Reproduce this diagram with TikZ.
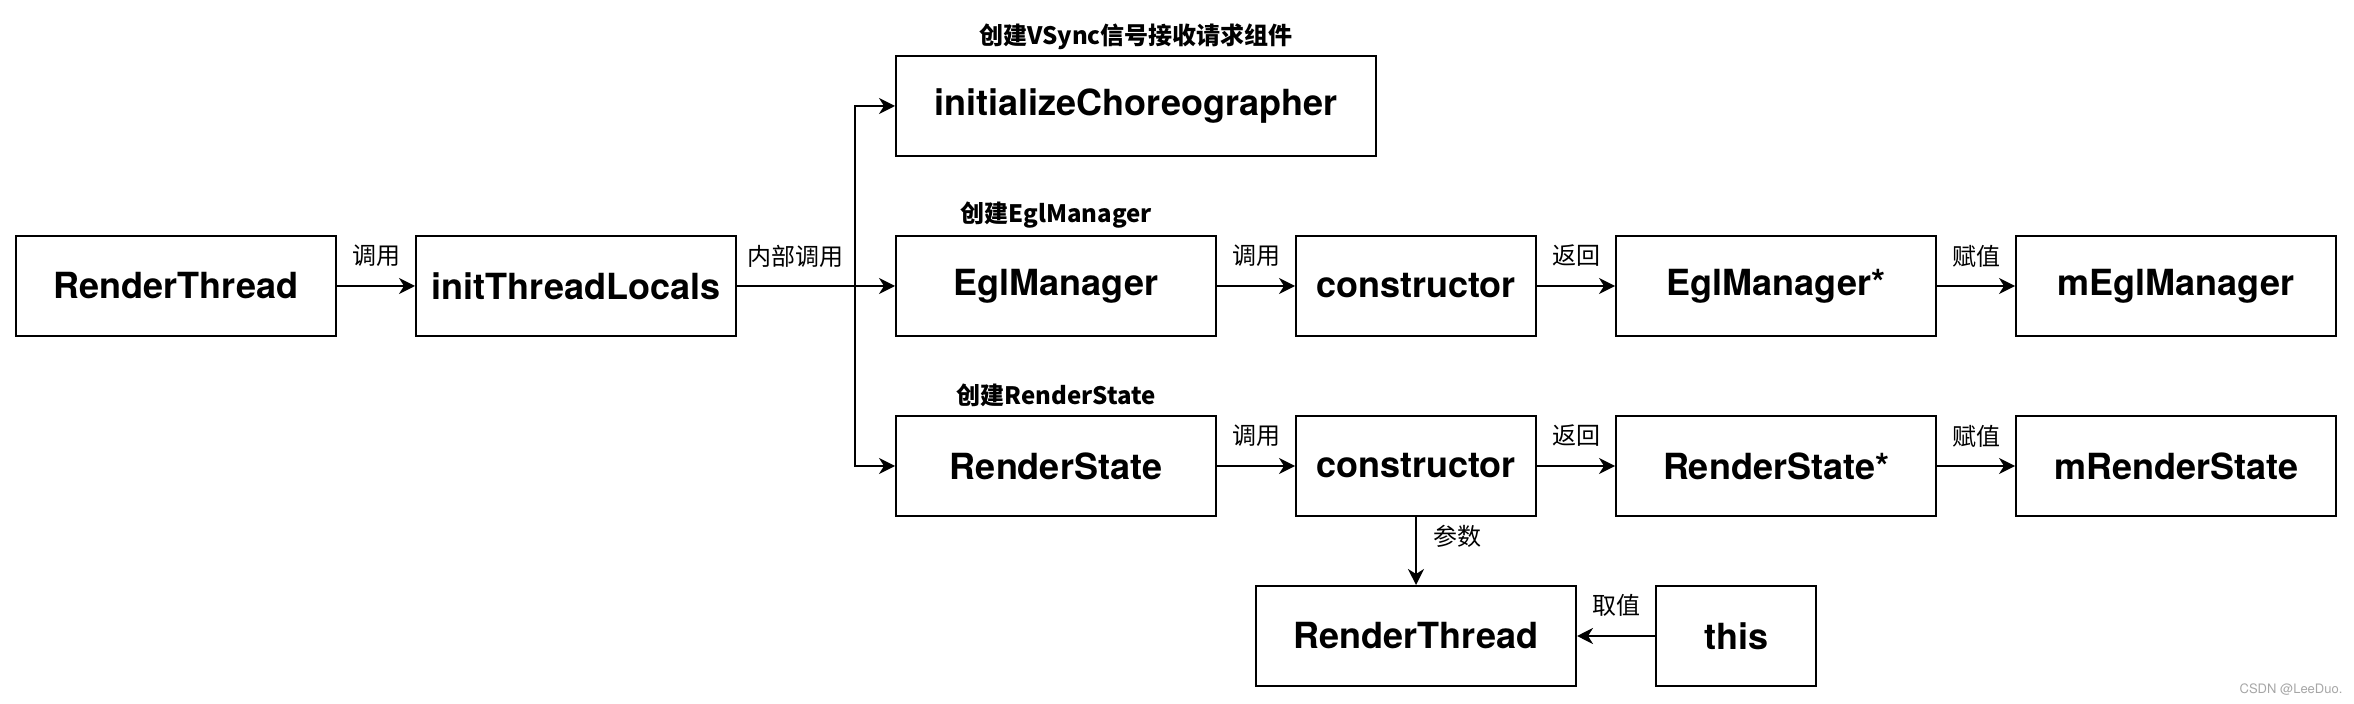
\documentclass[tikz,border=0pt]{standalone}
\usepackage{fontspec}
\usetikzlibrary{arrows.meta}
\newfontfamily\heros{TeX Gyre Heros}
\newfontfamily\cjk{Noto Sans CJK SC}
\begin{document}
\begin{tikzpicture}[x=0.5pt,y=-0.5pt,
  box/.style={draw=black,line width=1pt,fill=white,inner sep=0pt,minimum height=50pt,minimum width=160pt,
    font=\heros\bfseries\fontsize{18}{20}\selectfont},
  arr/.style={draw=black,line width=1pt,-{Stealth[length=8pt,width=8pt,inset=2.5pt]}},
  lbl/.style={inner sep=0pt,font=\cjk\fontsize{12}{14}\selectfont},
  ttl/.style={inner sep=0pt,font=\cjk\bfseries\fontsize{12}{14}\selectfont}]
\useasboundingbox (0,0) rectangle (2354,704);
\node[box] (rt1) at (176,286) {RenderThread};
\node[box] (init) at (576,286) {initThreadLocals};
\node[box,minimum width=240pt] (choreo) at (1136,106) {initializeChoreographer};
\node[box] (egl) at (1056,286) {EglManager};
\node[box,minimum width=120pt] (ctor1) at (1416,286) {constructor};
\node[box] (eglp) at (1776,286) {EglManager*};
\node[box] (megl) at (2176,286) {mEglManager};
\node[box] (rs) at (1056,466) {RenderState};
\node[box,minimum width=120pt] (ctor2) at (1416,466) {constructor};
\node[box] (rsp) at (1776,466) {RenderState*};
\node[box] (mrs) at (2176,466) {mRenderState};
\node[box] (rt2) at (1416,636) {RenderThread};
\node[box,minimum width=80pt] (this) at (1736,636) {this};
\coordinate (trunk) at (855,286);
\node[ttl] (t1) at (1136,37) {创建VSync信号接收请求组件};
\node[ttl] (t2) at (1056,215) {创建EglManager};
\node[ttl] (t3) at (1056,395) {创建RenderState};
\draw[arr] (rt1) -- (init);
\draw[arr] (init.east) -- (egl.west);
\draw[arr] (init.east) -- (trunk) |- (choreo.west);
\draw[arr] (init.east) -- (trunk) |- (rs.west);
\draw[arr] (egl) -- (ctor1);
\draw[arr] (ctor1) -- (eglp);
\draw[arr] (eglp) -- (megl);
\draw[arr] (rs) -- (ctor2);
\draw[arr] (ctor2) -- (rsp);
\draw[arr] (rsp) -- (mrs);
\draw[arr] (ctor2) -- (rt2);
\draw[arr] (this) -- (rt2);
\node[lbl] (l1) at (376,256) {调用};
\node[lbl] (l2) at (795,256) {内部调用};
\node[lbl] (l3) at (1256,256) {调用};
\node[lbl] (l4) at (1576,256) {返回};
\node[lbl] (l5) at (1976,256) {赋值};
\node[lbl] (l6) at (1256,436) {调用};
\node[lbl] (l7) at (1576,436) {返回};
\node[lbl] (l8) at (1976,436) {赋值};
\node[lbl] (l9) at (1457,536) {参数};
\node[lbl] (l10) at (1616,605) {取值};
\node[inner sep=0pt,text=black!35,font=\heros\fontsize{6.5}{7}\selectfont] (wm) at (2291,690) {CSDN @LeeDuo.};
\end{tikzpicture}
\end{document}
